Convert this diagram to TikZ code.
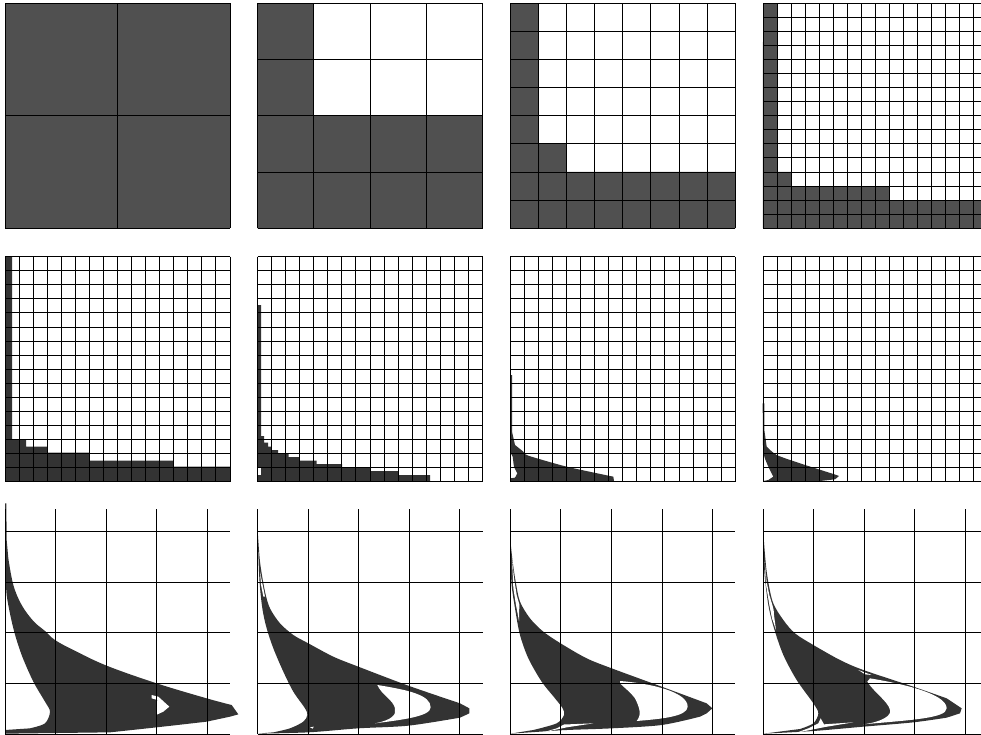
\documentclass[tikz,border=0pt]{standalone}
\definecolor{panelfill}{HTML}{505050}
\definecolor{curvefill}{HTML}{333333}
\tikzset{
  gridline/.style={black,line width=1pt},
  panelarea/.style={fill=panelfill},
  curvearea/.style={fill=curvefill},
  holearea/.style={fill=white},
}
% closed grid: left, top, cells
\newcommand{\panelgrid}[3]{
  \foreach \k in {0,...,#3} {
    \draw[gridline] ({#1+225*\k/#3},#2) -- ++(0,225);
    \draw[gridline] (#1,{#2+225*\k/#3}) -- ++(225,0);
  }
}
% open grid of the lower row: left
\newcommand{\zoomgrid}[1]{
  \foreach \k in {0,...,4} {
    \draw[gridline] ({#1+50.6*\k},509) -- ++(0,225);
    \draw[gridline] (#1,{734-50.6*\k}) -- ++(225,0);
  }
}
\begin{document}
\begin{tikzpicture}[x=1pt,y=-1pt]
    \useasboundingbox (0,0) rectangle (981,735);

    % top row
    \fill[panelarea] (5,3.3) rectangle ++(225,225);
    \fill[panelarea] (257.5,3.3) -- ++(56.25,0) -- ++(0,112.5) -- ++(168.75,0) -- ++(0,112.5) -- ++(-225,0) -- cycle;
    \fill[panelarea] (510.3,3.3) -- ++(28.1,0) -- ++(0,140.6) -- ++(28.1,0) -- ++(0,28.1) -- ++(168.8,0) -- ++(0,56.3) -- ++(-225,0) -- cycle;
    \fill[panelarea] (763,3.3) -- ++(14.06,0) -- ++(0,168.7) -- ++(14.06,0) -- ++(0,14.06) -- ++(98.4,0) -- ++(0,14.06) -- ++(98.4,0) -- ++(0,28.1) -- ++(-225,0) -- cycle;

    \panelgrid{5}{3.3}{2}
    \panelgrid{257.5}{3.3}{4}
    \panelgrid{510.3}{3.3}{8}
    \panelgrid{763}{3.3}{16}

    % middle row, left pair
    \begin{scope}[shift={(0,250)},scale=1/3]
        \fill[curvearea] (15,20) -- (36,20) -- (36,568) -- (78,568) -- (78,590) -- (141,590) -- (141,608)
            -- (268,608) -- (268,632) -- (520,632) -- (520,650) -- (690,650) -- (690,693) -- (15,693) -- cycle;
        \fill[curvearea] (772,165) -- (783,165) -- (783,558) -- (792,558) -- (792,578) -- (804,578) -- (804,590)
            -- (813,590) -- (813,600) -- (834,600) -- (834,610) -- (866,610) -- (866,621) -- (897,621) -- (897,632)
            -- (950,632) -- (950,642) -- (1026,642) -- (1026,652) -- (1110,652) -- (1110,663) -- (1194,663)
            -- (1194,675) -- (1290,675) -- (1290,693) -- (772,693) -- cycle;
        \fill[holearea] (775,655) rectangle (783,675);
    \end{scope}

    % middle row, right pair
    \begin{scope}[shift={(500,250)},scale=1/3]
        \fill[curvearea] (30,375) -- (36,375) -- (36,545)
            -- plot[smooth,tension=0.4] coordinates {(45,585) (70,605) (85,617) (200,650) (340,680)}
            -- (342,693) -- (30,693) -- (31,685) -- (45,683)
            -- plot[smooth,tension=0.4] coordinates {(52,670) (42,650) (38,620) (32,610)} -- (30,610) -- cycle;
        \fill[curvearea] (788,460) -- (793,460) -- (793,540)
            -- plot[smooth,tension=0.4] coordinates {(800,590) (830,615) (900,640) (1000,672) (1017,678)}
            -- (1005,688) -- (960,693) -- (790,693) -- (805,690)
            -- plot[smooth,tension=0.4] coordinates {(820,680) (805,650) (793,620) (789,590)} -- cycle;
    \end{scope}

    \panelgrid{5}{256.7}{16}
    \panelgrid{257.5}{256.7}{16}
    \panelgrid{510.3}{256.7}{16}
    \panelgrid{763}{256.7}{16}

    % lower row, first
    \begin{scope}[shift={(0,495)},scale=1/3]
        \fill[curvearea] (15,25) -- (19,25) -- (20,135)
            -- plot[smooth,tension=0.6] coordinates {(25,190) (40,270) (65,330) (100,378) (135,408) (165,435) (220,465) (320,512) (470,565) (620,610) (695,630)}
            -- (715,658) -- (690,665)
            -- plot[smooth,tension=0.5] coordinates {(620,680) (470,697) (330,712)} -- (15,716) -- (15,705)
            -- plot[smooth,tension=0.5] coordinates {(90,700) (135,685) (150,650) (135,620) (100,560) (65,480) (40,400) (20,300) (17,210)} -- cycle;
        \fill[holearea] (455,600) -- (475,605) -- (508,635) -- (490,650) -- (468,660) -- (468,640) -- (472,615) -- (455,610) -- cycle;
    \end{scope}

    % lower row, second
    \begin{scope}[shift={(250,495)},scale=1/3]
        \fill[curvearea] plot[smooth,tension=0.5] coordinates {(22,90) (30,200) (45,290) (60,340) (90,385) (130,420) (175,445) (250,485) (325,515) (475,572) (630,625)}
            -- (658,640) -- (658,655)
            -- plot[smooth,tension=0.5] coordinates {(630,668) (475,692) (325,700) (175,712) (22,716)}
            -- plot[smooth,tension=0.5] coordinates {(70,712) (120,700) (160,680) (172,660) (165,640) (130,590) (100,530) (70,460) (50,400) (37,340) (28,250) (22,90)} -- cycle;
        \fill[holearea] (382,570) .. controls (475,585) and (542,600) .. (542,637) .. controls (542,665) and (450,675) .. (375,685)
            .. controls (425,675) and (440,660) .. (435,640) .. controls (430,615) and (395,600) .. (382,570) -- cycle;
        \fill[holearea] (30,230) -- (38,270) -- (45,305) -- (40,305) -- (33,270) -- cycle;
        \fill[holearea] (180,697) -- (191,695) -- (188,701) -- cycle;
    \end{scope}

    % lower row, third
    \begin{scope}[shift={(500,495)},scale=1/3]
        \fill[curvearea] plot[smooth,tension=0.5] coordinates {(32,145) (38,200) (47,260) (60,320) (90,370) (130,410) (185,447) (260,490) (335,520) (485,575) (620,625)}
            -- (637,640) -- (620,655)
            -- plot[smooth,tension=0.5] coordinates {(600,665) (485,690) (335,700) (200,705) (120,710) (31,716)}
            -- plot[smooth,tension=0.5] coordinates {(100,705) (170,685) (192,660) (188,640) (165,610) (125,560) (85,490) (60,420) (45,340) (34,260) (32,145)} -- cycle;
        \fill[holearea] (360,558) .. controls (450,565) and (563,590) .. (563,635) .. controls (563,665) and (480,672) .. (410,678)
            .. controls (425,660) and (420,640) .. (405,610) .. controls (390,590) and (375,580) .. (360,565) -- cycle;
        \fill[holearea] (36,190) -- (42,250) -- (50,300) -- (58,328) -- (57,378) -- (48,330) -- (40,280) -- cycle;
        \fill[holearea] (205,688) -- (280,685) -- (200,697) -- (130,712) -- (170,700) -- (193,688) -- cycle;
    \end{scope}

    % lower row, fourth
    \begin{scope}[shift={(750,495)},scale=1/3]
        \fill[curvearea] plot[smooth,tension=0.5] coordinates {(40,115) (50,230) (68,320) (100,375) (135,415) (190,450) (270,495) (340,525) (490,575) (590,610)}
            -- (635,640) -- (630,655)
            -- plot[smooth,tension=0.5] coordinates {(590,668) (490,682) (340,695) (190,708) (40,716)}
            -- plot[smooth,tension=0.5] coordinates {(150,702) (190,685) (205,655) (190,625) (140,555) (100,480) (72,400) (55,330) (43,230) (40,115)} -- cycle;
        \fill[holearea] (360,550) .. controls (450,565) and (590,595) .. (590,640) .. controls (590,670) and (480,675) .. (340,688)
            .. controls (400,680) and (425,660) .. (420,645) .. controls (415,620) and (370,590) .. (352,560) -- cycle;
        \fill[holearea] (325,525) -- (365,540) -- (345,538) -- cycle;
        \fill[holearea] (44,200) -- (50,260) -- (58,300) -- (68,333) -- (71,345) -- (72,360) -- (78,405) -- (66,370) -- (58,330) -- (48,270) -- cycle;
        \fill[holearea] (212,670) -- (222,688) -- (310,682) -- (225,696) -- (180,705) -- (140,713) -- (175,700) -- (205,685) -- cycle;
    \end{scope}

    \zoomgrid{5}
    \zoomgrid{257.5}
    \zoomgrid{510.3}
    \zoomgrid{763}
\end{tikzpicture}
\end{document}
